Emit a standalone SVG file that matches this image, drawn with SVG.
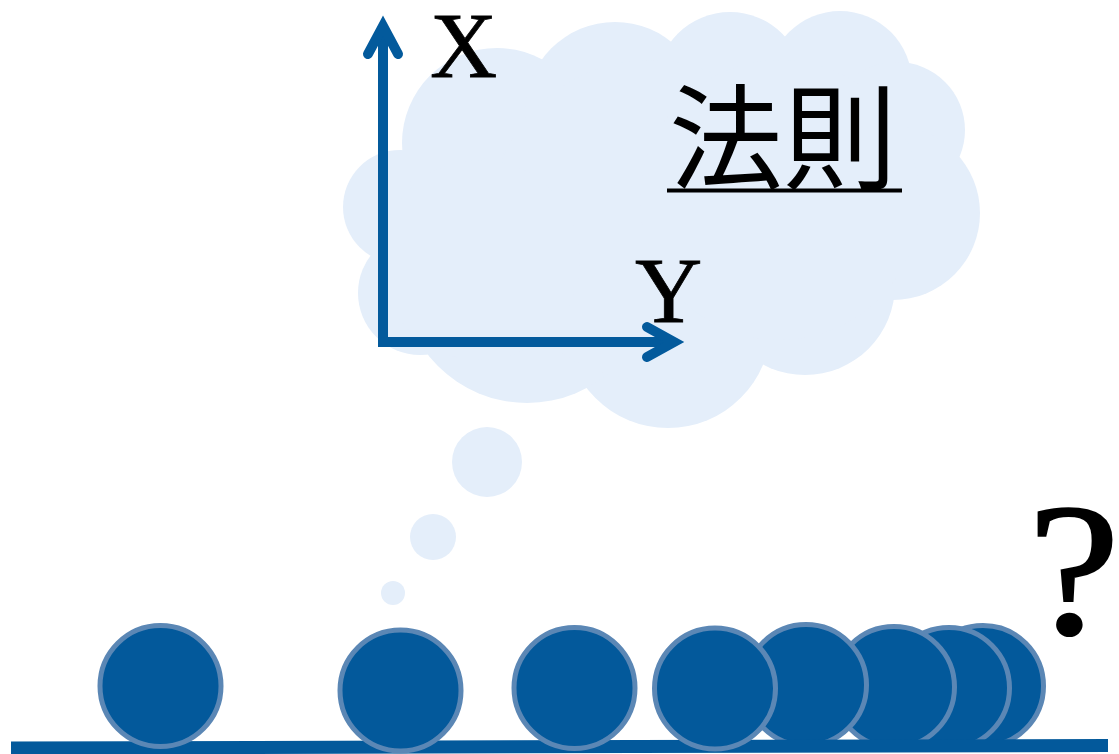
<svg xmlns="http://www.w3.org/2000/svg" width="1119" height="754" viewBox="0 0 1119 754">
  <style>
    .cloud { fill: #E4EEFA; }
    .ball { fill: #03599B; stroke: #5B87B5; stroke-width: 5; }
    .axis { fill: none; stroke: #035A9C; stroke-width: 10; }
    .head { fill: none; stroke: #035A9C; stroke-width: 10; stroke-linecap: round; stroke-linejoin: miter; }
    .lat { font-family: 'Liberation Serif', 'Times New Roman', serif; fill: #000; }
    .cjk { font-family: 'Noto Sans CJK JP', 'Noto Sans CJK SC', sans-serif; fill: #000; }
  </style>
  <rect width="1119" height="754" fill="#FFFFFF"/>

  <g id="cloud" class="cloud">
    <circle cx="400" cy="207" r="57"/>
    <circle cx="420" cy="293" r="62"/>
    <circle cx="497" cy="143" r="95"/>
    <circle cx="615" cy="112" r="90"/>
    <circle cx="730" cy="86" r="74"/>
    <circle cx="840" cy="83" r="72"/>
    <circle cx="897" cy="130" r="68"/>
    <circle cx="893" cy="213" r="87"/>
    <circle cx="805" cy="285" r="90"/>
    <circle cx="668" cy="325" r="103"/>
    <circle cx="527" cy="277" r="126"/>
    <circle cx="650" cy="220" r="160"/>
    <circle cx="780" cy="200" r="140"/>
    <circle cx="480" cy="260" r="100"/>
  </g>

  <g id="thought-bubbles" class="cloud">
    <circle cx="487" cy="462" r="35"/>
    <circle cx="433" cy="537" r="23"/>
    <circle cx="393" cy="593" r="12"/>
  </g>

  <g id="axes">
    <line class="axis" x1="383" y1="347" x2="383" y2="28"/>
    <polyline class="head" points="368,54 383,26 398,54"/>
    <line class="axis" x1="378" y1="342" x2="672" y2="342"/>
    <polyline class="head" points="647,327 674,342 647,357"/>
  </g>

  <g id="labels">
    <text class="lat" x="430" y="77" font-size="93" stroke="#000" stroke-width="0.8">X</text>
    <text class="lat" x="635" y="322" font-size="93" stroke="#000" stroke-width="0.8">Y</text>
    <text class="cjk" x="669" y="180" font-size="114">法則</text>
    <rect x="667" y="188.5" width="235" height="4" fill="#000"/>
    <text class="lat" x="0" y="0" transform="translate(1028,633) scale(1.1,1)" font-size="188" stroke="#000" stroke-width="2">?</text>
  </g>

  <g id="balls-back">
    <circle class="ball" cx="983" cy="686" r="60.5"/>
    <circle class="ball" cx="949" cy="688" r="60.5"/>
    <circle class="ball" cx="894" cy="687" r="60.5"/>
    <circle class="ball" cx="806" cy="685" r="60.5"/>
  </g>

  <g id="ground">
    <line x1="11" y1="748" x2="1108" y2="745.5" stroke="#03599B" stroke-width="13"/>
  </g>

  <g id="balls-front">
    <circle class="ball" cx="715" cy="688.5" r="60.5"/>
    <circle class="ball" cx="574.5" cy="688" r="60.5"/>
    <circle class="ball" cx="400.5" cy="690.5" r="60.5"/>
    <circle class="ball" cx="160.5" cy="686" r="60.5"/>
  </g>
</svg>
